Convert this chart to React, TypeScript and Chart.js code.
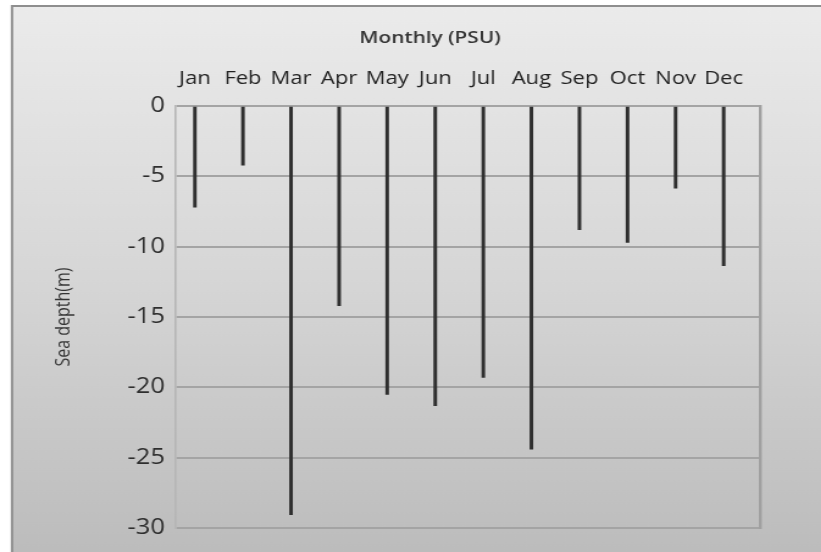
import React, { useEffect, useRef } from 'react';
import { Chart, registerables } from 'chart.js';

Chart.register(...registerables);

// ---- data ----
const months = ['Jan', 'Feb', 'Mar', 'Apr', 'May', 'Jun', 'Jul', 'Aug', 'Sep', 'Oct', 'Nov', 'Dec'];
const depths = [-7.2, -4.2, -29.05, -14.2, -20.5, -21.3, -19.3, -24.4, -8.8, -9.7, -5.85, -11.35];
const yTickValues = [0, -5, -10, -15, -20, -25, -30];
const chartTitle = 'Monthly (PSU)';
const yAxisTitle = 'Sea depth(m)';

// ---- layout (the source picture is horizontally stretched) ----
const SX = 1.22;
const OUT_W = 821;
const OUT_H = 552;
const LW = Math.round(OUT_W / SX);
const FONT = '"Open Sans", "Noto Sans", sans-serif';

const backgroundPlugin = {
  id: 'bgPanel',
  beforeDraw(chart: any) {
    const { ctx, width, height } = chart;
    ctx.save();
    ctx.fillStyle = '#ffffff';
    ctx.fillRect(0, 0, width, height);
    const x0 = 12 / SX;
    const y0 = 6;
    const g = ctx.createLinearGradient(0, y0, 0, height);
    g.addColorStop(0, '#ebebeb');
    g.addColorStop(0.5, '#d6d6d6');
    g.addColorStop(1, '#bcbcbc');
    ctx.fillStyle = g;
    ctx.fillRect(x0, y0, width - x0, height - y0);
    ctx.strokeStyle = '#8e8e8e';
    ctx.lineWidth = 2;
    ctx.beginPath();
    ctx.moveTo(x0, height);
    ctx.lineTo(x0, y0);
    ctx.lineTo(width, y0);
    ctx.stroke();
    ctx.restore();
  },
};

function App() {
  const ref = useRef<HTMLCanvasElement | null>(null);

  useEffect(() => {
    if (!ref.current) return;
    const chart = new Chart(ref.current, {
      type: 'bar',
      data: {
        datasets: [
          {
            label: chartTitle,
            data: months.map((_, i) => ({ x: i, y: depths[i] })),
            backgroundColor: '#2f2f2f',
            borderWidth: 0,
            barThickness: 2.3,
          },
        ],
      },
      plugins: [backgroundPlugin],
      options: {
        animation: false,
        responsive: false,
        devicePixelRatio: 1,
        layout: { padding: { left: 32, right: 0, top: 0, bottom: OUT_H - 528 } },
        plugins: {
          legend: { display: false },
          tooltip: { enabled: false },
          title: {
            display: true,
            text: chartTitle,
            color: '#353535',
            font: { family: FONT, size: 17, weight: '600', lineHeight: 1.2 },
            padding: { top: 38 - 10.2, bottom: 0 },
          },
        },
        scales: {
          x: {
            type: 'linear',
            position: 'top',
            offset: false,
            min: -0.393,
            max: 11.756,
            afterBuildTicks: (scale: any) => {
              scale.ticks = months.map((_, i) => ({ value: i }));
            },
            afterFit: (scale: any) => {
              scale.height = 106 - (38 - 10.2) - 20.4;
            },
            grid: { display: false, drawTicks: false },
            border: { display: false },
            ticks: {
              autoSkip: false,
              maxRotation: 0,
              padding: 16.5,
              color: '#222222',
              font: { family: FONT, size: 18 },
              callback: (v: any) => months[Math.round(Number(v))] ?? '',
            },
          },
          y: {
            type: 'linear',
            position: 'left',
            min: -30,
            max: 0,
            afterBuildTicks: (scale: any) => {
              scale.ticks = yTickValues.map((v) => ({ value: v }));
            },
            afterFit: (scale: any) => {
              scale.width = 176 / SX - 32;
            },
            grid: { color: '#a4a4a4', lineWidth: 2, drawTicks: false },
            border: { display: true, color: '#b6b6b6', width: 1.6 },
            ticks: {
              padding: 9,
              color: '#2e2e2e',
              font: { family: FONT, size: 21 },
            },
            title: {
              display: true,
              text: yAxisTitle,
              color: '#353535',
              font: { family: FONT, size: 16, lineHeight: 1.2 },
              padding: { top: 52.5 - 32 - 9.6, bottom: 0 },
            },
          },
          y2: {
            type: 'linear',
            position: 'right',
            min: -30,
            max: 0,
            afterFit: (scale: any) => {
              scale.width = LW - 760 / SX;
            },
            grid: { display: false, drawTicks: false },
            border: { display: true, color: '#a0a0a0', width: 2.4 },
            ticks: { display: false },
          },
        },
      },
    } as any);
    return () => chart.destroy();
  }, []);

  return (
    <div style={{ position: 'absolute', left: 0, top: 0, width: OUT_W, height: OUT_H, overflow: 'hidden', background: '#fff' }}>
      <canvas
        ref={ref}
        width={LW}
        height={OUT_H}
        style={{ display: 'block', width: LW, height: OUT_H, transform: `scaleX(${SX})`, transformOrigin: '0 0' }}
      />
    </div>
  );
}

export default App;
